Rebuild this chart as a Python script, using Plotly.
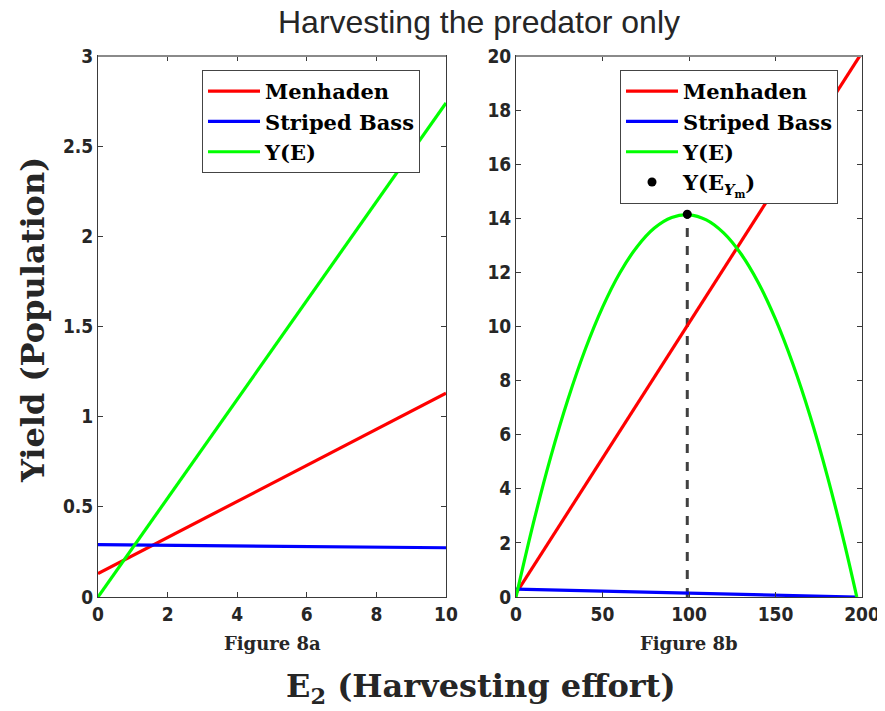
import plotly.graph_objects as go

# ---- data ----
E_a = [0, 10]
menhaden_a = [0.13, 1.13]
bass_a = [0.29, 0.273]
yield_a = [0, 2.74]

E_b_lines = [0, 200]
menhaden_b = [0.13, 20.13]
E_b_bass = [0, 197]
bass_b = [0.29, 0.0]

E_b = [0, 10, 20, 30, 40, 50, 60, 70, 80, 90, 100, 110, 120, 130, 140, 150, 160, 170, 180, 190, 197]
yield_b = [0, 2.72, 5.16, 7.30, 9.15, 10.71, 11.98, 12.95, 13.64, 14.03, 14.13, 13.94, 13.46, 12.69,
           11.63, 10.27, 8.62, 6.69, 4.46, 1.94, 0]

E_max = [99]
Y_max = [14.15]

left_xticks = [0, 2, 4, 6, 8, 10]
left_yticks = [0, 0.5, 1, 1.5, 2, 2.5, 3]
right_xticks = [0, 50, 100, 150, 200]
right_yticks = list(range(0, 21, 2))

RED, BLUE, GREEN = "#ff0000", "#0000ff", "#00ff00"
SERIF = "DejaVu Serif, Liberation Serif, serif"
SANS = "DejaVu Sans Condensed, Liberation Sans Narrow, Liberation Sans, Arial, sans-serif"
TSANS = "Liberation Sans Narrow, Liberation Sans, Arial, sans-serif"
TXT = "#262626"

fig = go.Figure()
lw = 3.2
fig.add_trace(go.Scatter(x=E_a, y=menhaden_a, mode="lines", line=dict(color=RED, width=lw),
                         name="<b>Menhaden</b>", xaxis="x", yaxis="y", legend="legend"))
fig.add_trace(go.Scatter(x=E_a, y=bass_a, mode="lines", line=dict(color=BLUE, width=lw),
                         name="<b>Striped Bass</b>", xaxis="x", yaxis="y", legend="legend"))
fig.add_trace(go.Scatter(x=E_a, y=yield_a, mode="lines", line=dict(color=GREEN, width=lw),
                         name="<b>Y(E)</b>", xaxis="x", yaxis="y", legend="legend"))

fig.add_trace(go.Scatter(x=[E_max[0], E_max[0]], y=[0, Y_max[0]], mode="lines",
                         line=dict(color="#404040", width=3, dash="dash"),
                         showlegend=False, xaxis="x2", yaxis="y2"))
fig.add_trace(go.Scatter(x=E_b_lines, y=menhaden_b, mode="lines", line=dict(color=RED, width=lw),
                         name="<b>Menhaden</b>", xaxis="x2", yaxis="y2", legend="legend2"))
fig.add_trace(go.Scatter(x=E_b_bass, y=bass_b, mode="lines", line=dict(color=BLUE, width=lw),
                         name="<b>Striped Bass</b>", xaxis="x2", yaxis="y2", legend="legend2"))
fig.add_trace(go.Scatter(x=E_b, y=yield_b, mode="lines", line=dict(color=GREEN, width=lw, shape="spline"),
                         name="<b>Y(E)</b>", xaxis="x2", yaxis="y2", legend="legend2"))
fig.add_trace(go.Scatter(x=E_max, y=Y_max, mode="markers", marker=dict(color="black", size=9),
                         name="<b>Y(E<sub><i>Y</i><sub>m</sub></sub>)</b>", xaxis="x2", yaxis="y2", legend="legend2"))

W, H = 885, 711
OFF = 8  # page body margin offset
def fx(p): return (p - OFF) / W
def fy(p): return 1 - (p - OFF) / H

axis_common = dict(showline=True, linecolor="#3a3a3a", linewidth=1, mirror="ticks", ticks="inside",
                   ticklen=5, tickcolor="#3a3a3a", showgrid=False, zeroline=False,
                   tickfont=dict(family=SANS, size=19, color=TXT, weight="bold"))

legend_common = dict(xanchor="left", yanchor="top", bgcolor="white",
                     bordercolor="#444444", borderwidth=1, font=dict(family=SERIF, size=21, color="black"),
                     tracegroupgap=0, itemwidth=52)

fig.update_layout(
    width=W, height=H, margin=dict(l=0, r=0, t=0, b=0, autoexpand=False),
    paper_bgcolor="white", plot_bgcolor="white",
    title=dict(text="Harvesting the predator only", x=fx(479), y=fy(22), xref="container", yref="container",
               xanchor="center", yanchor="middle", font=dict(family=TSANS, size=32, color=TXT)),
    xaxis=dict(domain=[fx(98), fx(446)], range=[0, 10], tickvals=left_xticks, anchor="y", **axis_common),
    yaxis=dict(domain=[fy(597), fy(56)], range=[0, 3], tickvals=left_yticks, anchor="x", **axis_common),
    xaxis2=dict(domain=[fx(516), fx(862)], range=[0, 200], tickvals=right_xticks, anchor="y2", **axis_common),
    yaxis2=dict(domain=[fy(597), fy(56)], range=[0, 20], tickvals=right_yticks, anchor="x2", **axis_common),
    legend=dict(x=fx(202), y=fy(70), **legend_common),
    legend2=dict(x=fx(620), y=fy(70), **legend_common),
    shapes=[
        dict(type="line", xref="paper", yref="paper", x0=fx(98), x1=fx(446), y0=fy(56), y1=fy(56),
             line=dict(color="#8a8a8a", width=2)),
        dict(type="line", xref="paper", yref="paper", x0=fx(516), x1=fx(862), y0=fy(56), y1=fy(56),
             line=dict(color="#8a8a8a", width=2)),
    ],
    annotations=[
        dict(text="<b>Figure 8a</b>", x=fx(272), y=fy(643), xref="paper", yref="paper",
             xanchor="center", yanchor="middle", showarrow=False, font=dict(family=SERIF, size=18, color=TXT)),
        dict(text="<b>Figure 8b</b>", x=fx(689), y=fy(643), xref="paper", yref="paper",
             xanchor="center", yanchor="middle", showarrow=False, font=dict(family=SERIF, size=18, color=TXT)),
        dict(text="<b>E<sub>2</sub> (Harvesting effort)</b>", x=fx(481), y=fy(688), xref="paper", yref="paper",
             xanchor="center", yanchor="middle", showarrow=False, font=dict(family=SERIF, size=32, color=TXT)),
        dict(text="<b>Yield (Population)</b>", x=fx(33), y=fy(320), xref="paper", yref="paper",
             xanchor="center", yanchor="middle", showarrow=False, textangle=-90,
             font=dict(family=SERIF, size=32, color=TXT)),
    ],
)

fig.write_html("out.html")
